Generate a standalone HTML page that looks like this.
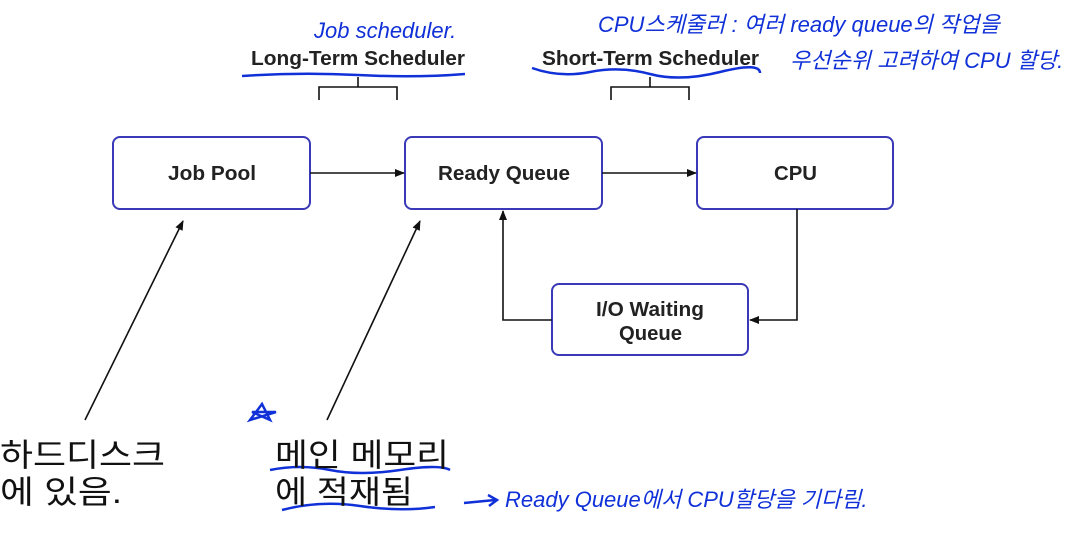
<!DOCTYPE html>
<html><head><meta charset="utf-8"><style>
html,body{margin:0;padding:0;background:#fff;}
svg{display:block}
.b{font-family:"Liberation Sans",Arial,sans-serif;font-weight:bold;font-size:20px;fill:#222}
.k{font-family:"Liberation Sans","Noto Sans CJK KR",sans-serif;font-size:32px;fill:#111}
.h{font-family:"Liberation Sans","Noto Sans CJK KR",sans-serif;font-size:22px;fill:#1030d8;font-style:italic}
</style></head><body>
<svg width="1073" height="536" viewBox="0 0 1073 536" xmlns="http://www.w3.org/2000/svg">
<defs><marker id="a" markerWidth="10" markerHeight="10" refX="9" refY="5" orient="auto" markerUnits="userSpaceOnUse"><path d="M0,1 L10,5 L0,9 z" fill="#111"/></marker></defs>
<g fill="#fff" stroke="#3a3ab8" stroke-width="2">
<rect x="113" y="137" width="197" height="72" rx="7"/>
<rect x="405" y="137" width="197" height="72" rx="7"/>
<rect x="697" y="137" width="196" height="72" rx="7"/>
<rect x="552" y="284" width="196" height="71" rx="7"/>
</g>
<text class="b" x="168" y="180" textLength="88" lengthAdjust="spacingAndGlyphs">Job Pool</text>
<text class="b" x="438" y="180" textLength="132" lengthAdjust="spacingAndGlyphs">Ready Queue</text>
<text class="b" x="774" y="180" textLength="43" lengthAdjust="spacingAndGlyphs">CPU</text>
<text class="b" x="596" y="316" textLength="108" lengthAdjust="spacingAndGlyphs">I/O Waiting</text>
<text class="b" x="619" y="340" textLength="63" lengthAdjust="spacingAndGlyphs">Queue</text>
<g stroke="#111" stroke-width="1.6" fill="none">
<line x1="310" y1="173" x2="404" y2="173" marker-end="url(#a)"/>
<line x1="602" y1="173" x2="696" y2="173" marker-end="url(#a)"/>
<polyline points="797,209 797,320 750,320" marker-end="url(#a)"/>
<polyline points="552,320 503,320 503,211" marker-end="url(#a)"/>
<line x1="85" y1="420" x2="183" y2="221" marker-end="url(#a)"/>
<line x1="327" y1="420" x2="420" y2="221" marker-end="url(#a)"/>
<polyline points="319,100 319,87 397,87 397,100"/>
<line x1="358" y1="87" x2="358" y2="77"/>
<polyline points="611,100 611,87 689,87 689,100"/>
<line x1="650" y1="87" x2="650" y2="77"/>
</g>
<text class="b" x="251" y="65" textLength="214" lengthAdjust="spacingAndGlyphs">Long-Term Scheduler</text>
<text class="b" x="542" y="65" textLength="217" lengthAdjust="spacingAndGlyphs">Short-Term Scheduler</text>
<g stroke="#1030d8" stroke-width="2.5" fill="none">
<path d="M242,76 Q300,72 358,75 T465,74"/>
<path d="M532,68 Q560,78 590,72 T650,74 T720,72 T760,73"/>
<path d="M270,470 Q300,464 330,470 T400,470 T450,470"/>
<path d="M282,510 Q320,500 360,506 T435,507"/>
<path d="M464,503 L495,500 M488,495 L497,500 L489,506"/>
<path d="M250,420 L262,404 L270,420 L252,412 L276,412 Z"/>
</g>
<text class="h" x="314" y="38">Job scheduler.</text>
<text class="h" x="598" y="32">CPU스케줄러 : 여러 ready queue의 작업을</text>
<text class="h" x="790" y="68">우선순위 고려하여 CPU 할당.</text>
<text class="h" x="505" y="507">Ready Queue에서 CPU할당을 기다림.</text>
<text class="k" x="0" y="466" textLength="165" lengthAdjust="spacingAndGlyphs">하드디스크</text>
<text class="k" x="0" y="503" textLength="122" lengthAdjust="spacingAndGlyphs">에 있음.</text>
<text class="k" x="275" y="466" textLength="174" lengthAdjust="spacingAndGlyphs">메인 메모리</text>
<text class="k" x="275" y="503" textLength="138" lengthAdjust="spacingAndGlyphs">에 적재됨</text>
</svg>
</body></html>
